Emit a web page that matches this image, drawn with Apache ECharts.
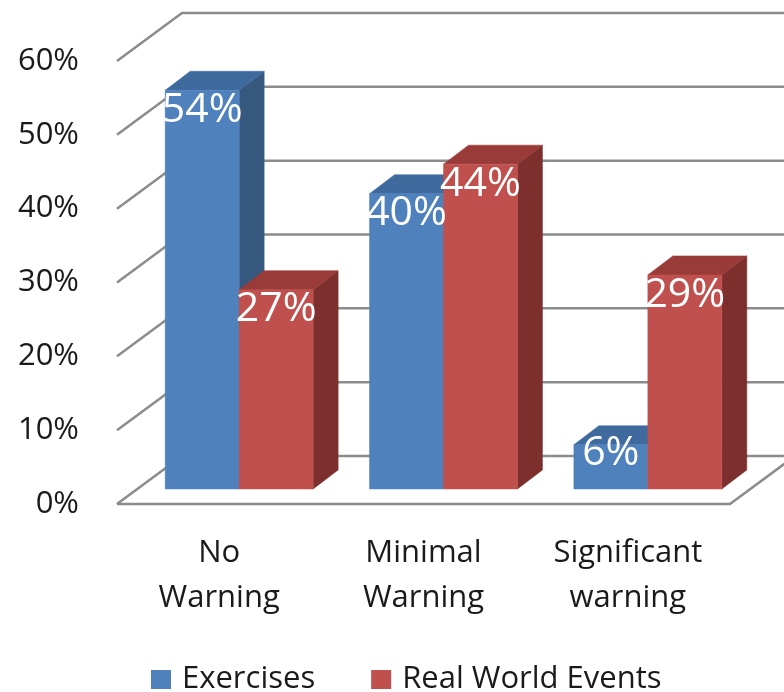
<!DOCTYPE html>
<html><head><meta charset="utf-8">
<script src="https://cdn.jsdelivr.net/npm/echarts@6/dist/echarts.min.js"></script>
<style>html,body{margin:0;padding:0;background:#fff}#c{width:784px;height:692px}</style>
</head><body><div id="c"></div>
<script>
// ---- data ----
const categories = ['No\nWarning', 'Minimal\nWarning', 'Significant\nwarning'];
const exercises = [54, 40, 6];
const realWorld = [27, 44, 29];
const seriesNames = ['Exercises', 'Real World Events'];
const yTicks = [0, 10, 20, 30, 40, 50, 60];

// ---- styling / 3D geometry ----
const FONT = '"Open Sans", sans-serif';
const TEXT_COLOR = '#1a1a1a';
const WALL = [65, -48];
const BAR_OFF = [20, -15];
const BAR_DEPTH = [25, -19];
const BAR_FRAC = 0.362;
const colors = [
  {front: '#4f81bd', top: '#3e6a9e', side: '#36587f'},
  {front: '#c0504d', top: '#983b39', side: '#7c2f2d'}
];
const GRID_COLOR = '#8c8c8c';

const chart = echarts.init(document.getElementById('c'));

function barGeom(api, s) {
  const cat = api.value(0), v = api.value(1);
  const p0 = api.coord([cat, 0]);
  const p1 = api.coord([cat, v]);
  const band = api.size([1, 0])[0];
  const w = band * BAR_FRAC;
  const xL = p0[0] + BAR_OFF[0] + (s === 0 ? -w : 0);
  const yB = p0[1] + BAR_OFF[1];
  const yT = p1[1] + BAR_OFF[1];
  return {xL: xL, xR: xL + w, yB: yB, yT: yT};
}
function barRender(s) {
  return function (params, api) {
    const g = barGeom(api, s);
    const dx = BAR_DEPTH[0], dy = BAR_DEPTH[1];
    const c = colors[s];
    return {type: 'group', children: [
      {type: 'polygon', shape: {points: [[g.xR, g.yB], [g.xR + dx, g.yB + dy], [g.xR + dx, g.yT + dy], [g.xR, g.yT]]},
        style: {fill: c.side, stroke: c.side, lineWidth: 0.5}},
      {type: 'polygon', shape: {points: [[g.xL, g.yT], [g.xR, g.yT], [g.xR + dx, g.yT + dy], [g.xL + dx, g.yT + dy]]},
        style: {fill: c.top, stroke: c.top, lineWidth: 0.5}},
      {type: 'polygon', shape: {points: [[g.xL, g.yB], [g.xR, g.yB], [g.xR, g.yT], [g.xL, g.yT]]},
        style: {fill: c.front, stroke: c.front, lineWidth: 0.5}}
    ]};
  };
}
function gridRender(params, api) {
  const cs = params.coordSys;
  const y = api.coord([0, api.value(1)])[1];
  const x = cs.x;
  const children = [{type: 'polyline',
    shape: {points: [[x, y], [x + WALL[0], y + WALL[1]], [cs.x + cs.width + 200, y + WALL[1]]]},
    style: {stroke: GRID_COLOR, lineWidth: 2.5, fill: null}}];
  if (api.value(1) === 0) {
    const xr = cs.x + cs.width;
    children.push({type: 'polyline',
      shape: {points: [[x, y], [xr, y], [xr + WALL[0], y + WALL[1]]]},
      style: {stroke: GRID_COLOR, lineWidth: 2.5, fill: null}});
  }
  return {type: 'group', children: children};
}
function labelRender(params, api) {
  const s = api.value(2);
  const g = barGeom(api, s);
  const off = Math.min(20, (g.yB - g.yT) * 0.2);
  return {type: 'text', x: (g.xL + g.xR) / 2, y: g.yT + off,
    style: {text: api.value(1) + '%', fill: '#ffffff', fontSize: 41, fontFamily: FONT,
      align: 'center', verticalAlign: 'middle'}};
}

const labelData = [];
exercises.forEach((v, i) => labelData.push([i, v, 0]));
realWorld.forEach((v, i) => labelData.push([i, v, 1]));

chart.setOption({
  animation: false,
  backgroundColor: '#ffffff',
  grid: {left: 117, right: 54, top: 61, bottom: 188, containLabel: false},
  legend: {
    data: seriesNames, left: 146, top: 659, icon: 'rect',
    itemWidth: 20, itemHeight: 19, itemGap: 56,
    textStyle: {fontSize: 31, fontFamily: FONT, color: TEXT_COLOR, padding: [0, 0, 0, 6]}
  },
  xAxis: {
    type: 'category', data: categories,
    axisLine: {show: false}, axisTick: {show: false}, splitLine: {show: false},
    axisLabel: {fontSize: 31, fontFamily: FONT, color: TEXT_COLOR, lineHeight: 45, margin: 27, interval: 0}
  },
  yAxis: {
    type: 'value', min: 0, max: 60, interval: 10,
    axisLine: {show: false}, axisTick: {show: false}, splitLine: {show: false},
    axisLabel: {formatter: '{value}%', fontSize: 31, fontFamily: FONT, color: TEXT_COLOR, margin: 38}
  },
  series: [
    {type: 'custom', name: 'grid', silent: true, z: 1, renderItem: gridRender,
      encode: {x: 0, y: 1}, data: yTicks.map(v => [0, v])},
    {type: 'custom', name: seriesNames[0], z: 2, renderItem: barRender(0),
      itemStyle: {color: colors[0].front}, encode: {x: 0, y: 1},
      data: exercises.map((v, i) => [i, v])},
    {type: 'custom', name: seriesNames[1], z: 2, renderItem: barRender(1),
      itemStyle: {color: colors[1].front}, encode: {x: 0, y: 1},
      data: realWorld.map((v, i) => [i, v])},
    {type: 'custom', name: 'labels', silent: true, z: 3, renderItem: labelRender,
      encode: {x: 0, y: 1}, data: labelData}
  ]
});
</script></body></html>
